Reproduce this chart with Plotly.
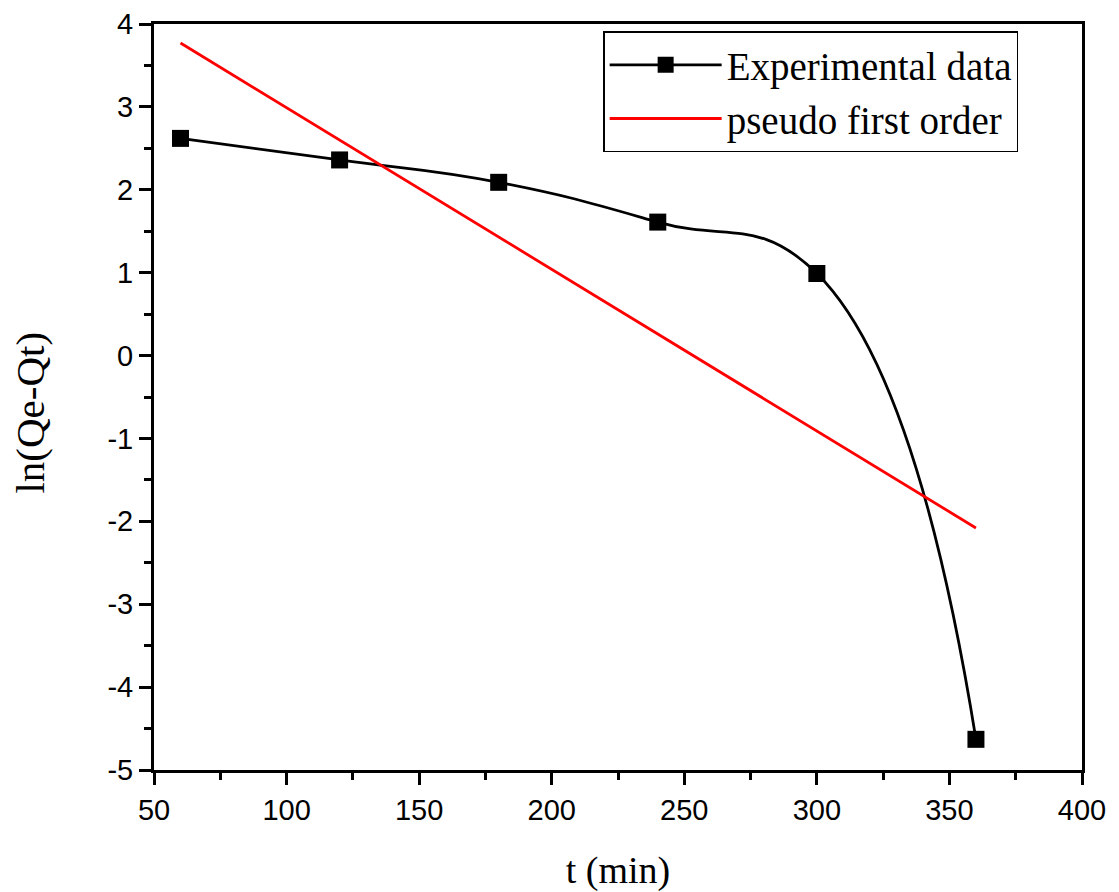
import plotly.graph_objects as go

t_exp = [60, 120, 180, 240, 300, 360]
ln_exp = [2.62, 2.36, 2.09, 1.61, 0.99, -4.63]

t_fit = [60, 360]
ln_fit = [3.77, -2.08]

x_ticks = [50, 100, 150, 200, 250, 300, 350, 400]
y_ticks = [-5, -4, -3, -2, -1, 0, 1, 2, 3, 4]
y_ticktext = ["-5", "-4", "-3", "-2", "-1", "0", "1", "2", "3", "4"]

fig = go.Figure()
fig.add_trace(go.Scatter(
    x=t_exp, y=ln_exp, mode="lines+markers", name="Experimental data",
    line=dict(color="black", width=2.8, shape="spline", smoothing=1.3),
    marker=dict(symbol="square", size=17, color="black"),
))
fig.add_trace(go.Scatter(
    x=t_fit, y=ln_fit, mode="lines", name="pseudo first order",
    line=dict(color="#ff0000", width=2.8),
))

fig.update_layout(
    width=1111, height=884,
    margin=dict(l=146, r=37, t=16, b=122),
    paper_bgcolor="white", plot_bgcolor="white",
    font=dict(family="Liberation Sans, Arial", color="black"),
    showlegend=True,
    legend=dict(
        x=0.484, y=0.99, xanchor="left", yanchor="top",
        bordercolor="black", borderwidth=1.5, bgcolor="white",
        font=dict(family="Liberation Serif, Times New Roman", size=39, color="black"),
        itemwidth=112, tracegroupgap=0,
    ),
    annotations=[dict(
        text="ln(Qe-Qt)", textangle=-90, showarrow=False,
        xref="paper", yref="paper", x=-0.134, y=0.4786,
        xanchor="center", yanchor="middle",
        font=dict(family="Liberation Serif, Times New Roman", size=41, color="black"),
    )],
)
fig.update_xaxes(
    range=[50, 400], tickvals=x_ticks, automargin=False,
    showline=True, linecolor="black", linewidth=3, mirror=True,
    ticks="outside", ticklen=12, tickwidth=3, tickcolor="black",
    minor=dict(ticks="outside", ticklen=7, tickwidth=3, dtick=25, tickcolor="black"),
    showgrid=False, zeroline=False, ticklabeloverflow="allow",
    tickfont=dict(family="Liberation Sans, Arial", size=29),
    title=dict(text="t (min)", font=dict(family="Liberation Serif, Times New Roman", size=38), standoff=34),
)
fig.update_yaxes(
    range=[-5, 4], tickvals=y_ticks, ticktext=y_ticktext, automargin=False,
    showline=True, linecolor="black", linewidth=3, mirror=True,
    ticks="outside", ticklen=12, tickwidth=3, tickcolor="black",
    minor=dict(ticks="outside", ticklen=7, tickwidth=3, dtick=0.5, tickcolor="black"),
    showgrid=False, zeroline=False, ticklabeloverflow="allow",
    tickfont=dict(family="Liberation Sans, Arial", size=29),
)

fig.write_html("out.html")
